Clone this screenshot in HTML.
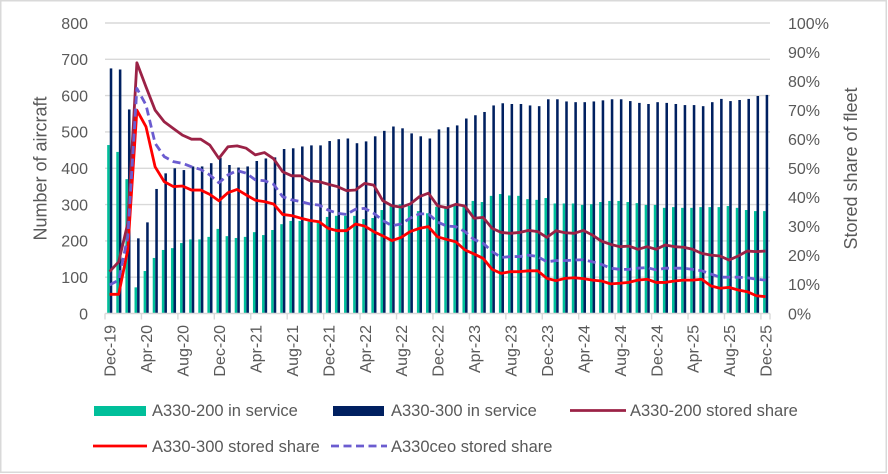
<!DOCTYPE html>
<html>
<head>
<meta charset="utf-8">
<style>
html,body{margin:0;padding:0;background:#fff;}
svg{display:block;}
text{font-family:"Liberation Sans",Arial,sans-serif;fill:#595959;}
</style>
</head>
<body>
<svg width="888" height="474" viewBox="0 0 888 474" xmlns="http://www.w3.org/2000/svg">
<rect x="0" y="0" width="888" height="474" fill="#fff"/>
<rect x="0.75" y="0.75" width="885.5" height="471.5" fill="none" stroke="#d9d9d9" stroke-width="1.5"/>

<!-- gridlines -->
<g stroke="#d9d9d9" stroke-width="1.4">
<line x1="105" x2="770" y1="277.2" y2="277.2"/>
<line x1="105" x2="770" y1="240.9" y2="240.9"/>
<line x1="105" x2="770" y1="204.6" y2="204.6"/>
<line x1="105" x2="770" y1="168.3" y2="168.3"/>
<line x1="105" x2="770" y1="131.9" y2="131.9"/>
<line x1="105" x2="770" y1="95.6" y2="95.6"/>
<line x1="105" x2="770" y1="59.3" y2="59.3"/>
<line x1="105" x2="770" y1="23" y2="23"/>
</g>

<!-- bars -->
<g transform="translate(109.55,313.5) scale(9.11,-0.3631)">
<g fill="#00BF9A">
<rect x="-0.26" width=".28" height="464"/>
<rect x="0.74" width=".28" height="445"/>
<rect x="1.74" width=".28" height="370"/>
<rect x="2.74" width=".28" height="72"/>
<rect x="3.74" width=".28" height="117"/>
<rect x="4.74" width=".28" height="153"/>
<rect x="5.74" width=".28" height="175"/>
<rect x="6.74" width=".28" height="180"/>
<rect x="7.74" width=".28" height="194"/>
<rect x="8.74" width=".28" height="204"/>
<rect x="9.74" width=".28" height="204"/>
<rect x="10.74" width=".28" height="211"/>
<rect x="11.74" width=".28" height="233"/>
<rect x="12.74" width=".28" height="213"/>
<rect x="13.74" width=".28" height="208"/>
<rect x="14.74" width=".28" height="211"/>
<rect x="15.74" width=".28" height="224"/>
<rect x="16.74" width=".28" height="216"/>
<rect x="17.74" width=".28" height="230"/>
<rect x="18.74" width=".28" height="246"/>
<rect x="19.74" width=".28" height="255"/>
<rect x="20.74" width=".28" height="255"/>
<rect x="21.74" width=".28" height="253"/>
<rect x="22.74" width=".28" height="253"/>
<rect x="23.74" width=".28" height="266"/>
<rect x="24.74" width=".28" height="269"/>
<rect x="25.74" width=".28" height="269"/>
<rect x="26.74" width=".28" height="269"/>
<rect x="27.74" width=".28" height="260"/>
<rect x="28.74" width=".28" height="263"/>
<rect x="29.74" width=".28" height="285"/>
<rect x="30.74" width=".28" height="296"/>
<rect x="31.74" width=".28" height="301"/>
<rect x="32.74" width=".28" height="296"/>
<rect x="33.74" width=".28" height="282"/>
<rect x="34.74" width=".28" height="276"/>
<rect x="35.74" width=".28" height="294"/>
<rect x="36.74" width=".28" height="294"/>
<rect x="37.74" width=".28" height="296"/>
<rect x="38.74" width=".28" height="294"/>
<rect x="39.74" width=".28" height="310"/>
<rect x="40.74" width=".28" height="307"/>
<rect x="41.74" width=".28" height="324"/>
<rect x="42.74" width=".28" height="329"/>
<rect x="43.74" width=".28" height="325"/>
<rect x="44.74" width=".28" height="324"/>
<rect x="45.74" width=".28" height="315"/>
<rect x="46.74" width=".28" height="313"/>
<rect x="47.74" width=".28" height="318"/>
<rect x="48.74" width=".28" height="303"/>
<rect x="49.74" width=".28" height="303"/>
<rect x="50.74" width=".28" height="303"/>
<rect x="51.74" width=".28" height="299"/>
<rect x="52.74" width=".28" height="301"/>
<rect x="53.74" width=".28" height="307"/>
<rect x="54.74" width=".28" height="310"/>
<rect x="55.74" width=".28" height="310"/>
<rect x="56.74" width=".28" height="307"/>
<rect x="57.74" width=".28" height="304"/>
<rect x="58.74" width=".28" height="299"/>
<rect x="59.74" width=".28" height="299"/>
<rect x="60.74" width=".28" height="291"/>
<rect x="61.74" width=".28" height="293"/>
<rect x="62.74" width=".28" height="291"/>
<rect x="63.74" width=".28" height="291"/>
<rect x="64.74" width=".28" height="293"/>
<rect x="65.74" width=".28" height="293"/>
<rect x="66.74" width=".28" height="293"/>
<rect x="67.74" width=".28" height="296"/>
<rect x="68.74" width=".28" height="291"/>
<rect x="69.74" width=".28" height="285"/>
<rect x="70.74" width=".28" height="282"/>
<rect x="71.74" width=".28" height="282"/>
</g>
<g fill="#002060">
<rect x="0.02" width=".28" height="675"/>
<rect x="1.02" width=".28" height="672"/>
<rect x="2.02" width=".28" height="562"/>
<rect x="3.02" width=".28" height="207"/>
<rect x="4.02" width=".28" height="251"/>
<rect x="5.02" width=".28" height="343"/>
<rect x="6.02" width=".28" height="386"/>
<rect x="7.02" width=".28" height="400"/>
<rect x="8.02" width=".28" height="395"/>
<rect x="9.02" width=".28" height="405"/>
<rect x="10.02" width=".28" height="405"/>
<rect x="11.02" width=".28" height="414"/>
<rect x="12.02" width=".28" height="429"/>
<rect x="13.02" width=".28" height="409"/>
<rect x="14.02" width=".28" height="402"/>
<rect x="15.02" width=".28" height="405"/>
<rect x="16.02" width=".28" height="420"/>
<rect x="17.02" width=".28" height="427"/>
<rect x="18.02" width=".28" height="430"/>
<rect x="19.02" width=".28" height="453"/>
<rect x="20.02" width=".28" height="455"/>
<rect x="21.02" width=".28" height="460"/>
<rect x="22.02" width=".28" height="463"/>
<rect x="23.02" width=".28" height="463"/>
<rect x="24.02" width=".28" height="475"/>
<rect x="25.02" width=".28" height="480"/>
<rect x="26.02" width=".28" height="482"/>
<rect x="27.02" width=".28" height="469"/>
<rect x="28.02" width=".28" height="474"/>
<rect x="29.02" width=".28" height="488"/>
<rect x="30.02" width=".28" height="503"/>
<rect x="31.02" width=".28" height="515"/>
<rect x="32.02" width=".28" height="510"/>
<rect x="33.02" width=".28" height="496"/>
<rect x="34.02" width=".28" height="488"/>
<rect x="35.02" width=".28" height="482"/>
<rect x="36.02" width=".28" height="507"/>
<rect x="37.02" width=".28" height="513"/>
<rect x="38.02" width=".28" height="518"/>
<rect x="39.02" width=".28" height="537"/>
<rect x="40.02" width=".28" height="546"/>
<rect x="41.02" width=".28" height="555"/>
<rect x="42.02" width=".28" height="573"/>
<rect x="43.02" width=".28" height="579"/>
<rect x="44.02" width=".28" height="577"/>
<rect x="45.02" width=".28" height="577"/>
<rect x="46.02" width=".28" height="573"/>
<rect x="47.02" width=".28" height="571"/>
<rect x="48.02" width=".28" height="590"/>
<rect x="49.02" width=".28" height="590"/>
<rect x="50.02" width=".28" height="584"/>
<rect x="51.02" width=".28" height="582"/>
<rect x="52.02" width=".28" height="582"/>
<rect x="53.02" width=".28" height="584"/>
<rect x="54.02" width=".28" height="587"/>
<rect x="55.02" width=".28" height="590"/>
<rect x="56.02" width=".28" height="590"/>
<rect x="57.02" width=".28" height="585"/>
<rect x="58.02" width=".28" height="580"/>
<rect x="59.02" width=".28" height="577"/>
<rect x="60.02" width=".28" height="582"/>
<rect x="61.02" width=".28" height="580"/>
<rect x="62.02" width=".28" height="577"/>
<rect x="63.02" width=".28" height="574"/>
<rect x="64.02" width=".28" height="574"/>
<rect x="65.02" width=".28" height="571"/>
<rect x="66.02" width=".28" height="582"/>
<rect x="67.02" width=".28" height="591"/>
<rect x="68.02" width=".28" height="585"/>
<rect x="69.02" width=".28" height="588"/>
<rect x="70.02" width=".28" height="591"/>
<rect x="71.02" width=".28" height="599"/>
<rect x="72.02" width=".28" height="602"/>
</g>
</g>

<!-- x axis -->
<line x1="105" x2="770" y1="313.5" y2="313.5" stroke="#d9d9d9" stroke-width="1.4"/>
<g stroke="#d9d9d9" stroke-width="1.4">
<line x1="105" x2="105" y1="313.5" y2="319.5"/>
<line x1="141.44" x2="141.44" y1="313.5" y2="319.5"/>
<line x1="177.88" x2="177.88" y1="313.5" y2="319.5"/>
<line x1="214.32" x2="214.32" y1="313.5" y2="319.5"/>
<line x1="250.76" x2="250.76" y1="313.5" y2="319.5"/>
<line x1="287.2" x2="287.2" y1="313.5" y2="319.5"/>
<line x1="323.64" x2="323.64" y1="313.5" y2="319.5"/>
<line x1="360.08" x2="360.08" y1="313.5" y2="319.5"/>
<line x1="396.52" x2="396.52" y1="313.5" y2="319.5"/>
<line x1="432.96" x2="432.96" y1="313.5" y2="319.5"/>
<line x1="469.4" x2="469.4" y1="313.5" y2="319.5"/>
<line x1="505.84" x2="505.84" y1="313.5" y2="319.5"/>
<line x1="542.28" x2="542.28" y1="313.5" y2="319.5"/>
<line x1="578.72" x2="578.72" y1="313.5" y2="319.5"/>
<line x1="615.16" x2="615.16" y1="313.5" y2="319.5"/>
<line x1="651.6" x2="651.6" y1="313.5" y2="319.5"/>
<line x1="688.04" x2="688.04" y1="313.5" y2="319.5"/>
<line x1="724.48" x2="724.48" y1="313.5" y2="319.5"/>
<line x1="760.92" x2="760.92" y1="313.5" y2="319.5"/>
<line x1="770" x2="770" y1="313.5" y2="319.5"/>
</g>

<!-- lines -->
<g transform="translate(109.55,313.5) scale(9.11,-2.905)" fill="none" stroke-linejoin="round">
<polyline vector-effect="non-scaling-stroke" stroke="#9B2246" stroke-width="2.8" points="0,14.4 1,17.8 2,31 3,86.3 4,78 5,70 6,66 7,63.7 8,61.4 9,60 10,60 11,58 12,53.4 13,57.4 14,57.7 15,56.9 16,54.6 17,55.4 18,53.3 19,48.8 20,47.4 21,47.4 22,45.7 23,45.4 24,44.5 25,43.7 26,42.3 27,42.5 28,44.8 29,44.2 30,38.8 31,37.1 32,36.6 33,37.7 34,40.2 35,41.4 36,37.1 37,36.4 38,37.6 39,37 40,32.8 41,33.1 42,29.3 43,27.9 44,27.6 45,27.9 46,28.6 47,28.2 48,26.2 49,28.5 50,27.8 51,27.6 52,28.6 53,27 54,24.9 55,23.8 56,23 57,23.2 58,22.1 59,23 60,22.1 61,23.6 62,23 63,22.8 64,22.1 65,20.7 66,20.1 67,19.8 68,18.4 69,19.8 70,21.5 71,21.3 72,21.5"/>
<polyline vector-effect="non-scaling-stroke" stroke="#FF0000" stroke-width="2.8" points="0,6.6 1,6.6 2,21.9 3,70 4,64.3 5,50.5 6,45.4 7,43.7 8,43.9 9,42.5 10,42.5 11,41 12,38.8 13,41.6 14,42.7 15,40.8 16,39 17,38.5 18,37.7 19,34.1 20,33.7 21,32.8 22,32 23,31.6 24,29.3 25,28.5 26,28.5 27,30.8 28,30.1 29,28.2 30,26.7 31,25.1 32,26.2 33,28.2 34,29.3 35,29.9 36,26.4 37,25.5 38,24.7 39,21.9 40,20.5 41,19 42,15.2 43,13.8 44,14.4 45,14.4 46,14.7 47,14.7 48,12.1 49,11.3 50,12.1 51,12.3 52,12 53,11.5 54,11.2 55,10.2 56,10.4 57,10.7 58,11.5 59,11.8 60,10.7 61,10.7 62,11.2 63,11.5 64,11.5 65,11.8 66,9.5 67,8.7 68,9 69,8.1 70,7.5 71,6.1 72,5.8"/>
<polyline vector-effect="non-scaling-stroke" stroke="#6B5CD0" stroke-width="2.8" stroke-dasharray="8 4.5" points="0,9.8 1,11.5 2,26.4 3,77.5 4,71.8 5,58.6 6,54 7,52.3 8,51.7 9,50.5 10,49.6 11,47.7 12,45 13,47.7 14,49.2 15,48.3 16,46 17,45.7 18,44.5 19,40.2 20,39.1 21,38.5 22,37.7 23,37.3 24,35.6 25,34.5 26,34.1 27,35.9 28,36.2 29,34.5 30,32 31,30.2 32,30.8 33,32.8 34,34.3 35,34.3 36,31.5 37,30.1 38,29.9 39,28.2 40,25.5 41,24.2 42,21.3 43,19.3 44,19.6 45,19.6 46,20.1 47,19.6 48,17.8 49,18.2 50,18.2 51,18.4 52,18.5 53,17.8 54,16.9 55,15.6 56,15.2 57,15.2 58,15.6 59,15.8 60,15 61,15.6 62,15.6 63,15.6 64,15.2 65,14.7 66,13.6 67,12.5 68,12.5 69,12.5 70,12.3 71,11.8 72,11.5"/>
</g>

<!-- left axis labels -->
<g font-size="16" text-anchor="end">
<text x="88" y="319.3">0</text>
<text x="88" y="283">100</text>
<text x="88" y="246.7">200</text>
<text x="88" y="210.4">300</text>
<text x="88" y="174.1">400</text>
<text x="88" y="137.7">500</text>
<text x="88" y="101.4">600</text>
<text x="88" y="65.1">700</text>
<text x="88" y="28.8">800</text>
</g>

<!-- right axis labels -->
<g font-size="16" text-anchor="start">
<text x="788" y="319.3">0%</text>
<text x="788" y="290.2">10%</text>
<text x="788" y="261.2">20%</text>
<text x="788" y="232.1">30%</text>
<text x="788" y="203.1">40%</text>
<text x="788" y="174">50%</text>
<text x="788" y="145">60%</text>
<text x="788" y="115.9">70%</text>
<text x="788" y="86.9">80%</text>
<text x="788" y="57.8">90%</text>
<text x="788" y="28.8">100%</text>
</g>

<!-- axis titles -->
<text font-size="18" text-anchor="middle" transform="translate(46.5,168.5) rotate(-90)">Number of aircraft</text>
<text font-size="18" text-anchor="middle" transform="translate(857,168.5) rotate(-90)">Stored share of fleet</text>

<!-- x labels -->
<g font-size="16" text-anchor="end">
<text transform="translate(115.7,325) rotate(-90)">Dec-19</text>
<text transform="translate(152.1,325) rotate(-90)">Apr-20</text>
<text transform="translate(188.6,325) rotate(-90)">Aug-20</text>
<text transform="translate(225,325) rotate(-90)">Dec-20</text>
<text transform="translate(261.5,325) rotate(-90)">Apr-21</text>
<text transform="translate(297.9,325) rotate(-90)">Aug-21</text>
<text transform="translate(334.3,325) rotate(-90)">Dec-21</text>
<text transform="translate(370.8,325) rotate(-90)">Apr-22</text>
<text transform="translate(407.2,325) rotate(-90)">Aug-22</text>
<text transform="translate(443.7,325) rotate(-90)">Dec-22</text>
<text transform="translate(480.1,325) rotate(-90)">Apr-23</text>
<text transform="translate(516.5,325) rotate(-90)">Aug-23</text>
<text transform="translate(553,325) rotate(-90)">Dec-23</text>
<text transform="translate(589.4,325) rotate(-90)">Apr-24</text>
<text transform="translate(625.9,325) rotate(-90)">Aug-24</text>
<text transform="translate(662.3,325) rotate(-90)">Dec-24</text>
<text transform="translate(698.7,325) rotate(-90)">Apr-25</text>
<text transform="translate(735.2,325) rotate(-90)">Aug-25</text>
<text transform="translate(771.6,325) rotate(-90)">Dec-25</text>
</g>

<!-- legend -->
<rect x="94" y="406" width="52" height="10" fill="#00BF9A"/>
<text x="152" y="416" font-size="16.5">A330-200 in service</text>
<rect x="333" y="406" width="51" height="10" fill="#002060"/>
<text x="391" y="416" font-size="16.5">A330-300 in service</text>
<line x1="570" x2="626" y1="410.5" y2="410.5" stroke="#9B2246" stroke-width="2.8"/>
<text x="630" y="416" font-size="16.5">A330-200 stored share</text>
<line x1="93" x2="147" y1="446" y2="446" stroke="#FF0000" stroke-width="2.8"/>
<text x="152" y="452" font-size="16.5">A330-300 stored share</text>
<line x1="331" x2="387" y1="446" y2="446" stroke="#6B5CD0" stroke-width="2.8" stroke-dasharray="8 4.5"/>
<text x="391" y="452" font-size="16.5">A330ceo stored share</text>
</svg>
</body>
</html>
